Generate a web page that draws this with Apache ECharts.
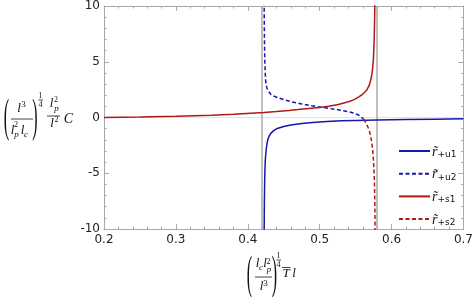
<!DOCTYPE html>
<html>
<head>
<meta charset="utf-8">
<script src="https://cdn.jsdelivr.net/npm/echarts@6/dist/echarts.min.js"></script>
<style>
html,body{margin:0;padding:0;background:#fff;}
#c{width:476px;height:297px;}
</style>
</head>
<body>
<div id="c"></div>
<script>
// ---- data ----
const xTicks = [0.2, 0.3, 0.4, 0.5, 0.6, 0.7];
const yTicks = [-10, -5, 0, 5, 10];
const asymptotes = [0.4226, 0.5774];
const seriesNames = ['u1', 'u2', 's1', 's2'];

const rU1 = [[0.4227,-11],[0.4229,-9],[0.4231,-7.5],[0.4234,-6],[0.4238,-4.8],[0.4243,-3.9],[0.425,-3.3],[0.4258,-2.8],[0.4266,-2.4],[0.4278,-2.0],[0.4295,-1.7],[0.432,-1.42],[0.436,-1.18],[0.441,-0.98],[0.45,-0.8],[0.46,-0.67],[0.475,-0.53],[0.49,-0.44],[0.51,-0.36],[0.53,-0.3],[0.55,-0.26],[0.58,-0.22],[0.62,-0.18],[0.66,-0.15],[0.7,-0.12]];
const rU2 = [[0.4227,11],[0.4229,9],[0.4231,7.5],[0.4234,6],[0.4238,4.8],[0.4243,4.0],[0.4249,3.3],[0.4257,2.9],[0.4266,2.65],[0.428,2.42],[0.4296,2.25],[0.432,2.08],[0.435,1.95],[0.441,1.8],[0.45,1.6],[0.46,1.42],[0.475,1.22],[0.487,1.06],[0.5,0.95],[0.5126,0.82],[0.527,0.68],[0.54,0.52],[0.548,0.38],[0.554,0.22],[0.558,0.04],[0.5615,-0.18]];
const rS1 = [[0.2,0.0],[0.25,0.05],[0.3,0.12],[0.35,0.21],[0.38,0.29],[0.4226,0.45],[0.44,0.53],[0.457,0.63],[0.47,0.71],[0.485,0.81],[0.5,0.9],[0.5126,1.0],[0.526,1.17],[0.54,1.42],[0.548,1.6],[0.554,1.82],[0.56,2.1],[0.5656,2.47],[0.569,2.9],[0.571,3.36],[0.5728,3.95],[0.5739,4.56],[0.5748,5.3],[0.5753,6.05],[0.5758,7.0],[0.5762,8.1],[0.5766,9.5],[0.577,11.5]];
const rS2 = [[0.5612,-0.16],[0.563,-0.35],[0.565,-0.58],[0.5665,-0.78],[0.568,-0.99],[0.5695,-1.3],[0.571,-1.7],[0.5725,-2.3],[0.5738,-3.0],[0.5748,-3.8],[0.5756,-4.8],[0.5762,-5.9],[0.5766,-7.2],[0.5769,-8.8],[0.5772,-11]];

// ---- styles ----
const BLUE = '#1717ad';
const RED = '#b01818';
const FRAME = '#a8a8a8';
const SERIF = '"Liberation Serif", "DejaVu Serif", serif';
const SANS = '"DejaVu Sans", sans-serif';

function T(x, y, s, size, italic, extra) {
  const el = {
    type: 'text', x: x, y: y, z: 100,
    style: {
      text: s, fontSize: size, fontFamily: SERIF,
      fontStyle: italic ? 'italic' : 'normal',
      fill: '#111', align: 'center', verticalAlign: 'middle'
    }
  };
  if (extra) Object.assign(el, extra);
  return el;
}
function L(x1, y1, x2, y2) {
  return { type: 'line', z: 100, shape: { x1: x1, y1: y1, x2: x2, y2: y2 }, style: { stroke: '#111', lineWidth: 0.8 } };
}
const paren = { scaleY: 2.9 };

const mathY = [
  T(6.5, 119, '(', 16, false, paren),
  T(19, 108.5, 'l', 13, true), T(23.5, 105, '3', 9, false),
  L(11, 119, 33, 119),
  T(12.5, 130.5, 'l', 13, true), T(16, 124.5, '2', 8, false), T(16.5, 135, 'p', 9, true),
  T(22.5, 130.5, 'l', 13, true), T(26, 134.5, 'c', 9, true),
  T(35, 119, ')', 16, false, paren),
  T(40.5, 95.5, '1', 8, false), L(38.5, 100, 43, 100), T(40.5, 104.5, '4', 8, false),
  T(51.5, 104, 'l', 13, true), T(56, 99.5, '2', 8, false), T(56.5, 108.5, 'p', 9, true),
  L(47, 116, 60, 116),
  T(52, 123.5, 'l', 13, true), T(56.5, 120, '2', 8, false),
  T(68.5, 119, 'C', 14, true)
];
const mathX = [
  T(249.5, 275.5, '(', 16, false, paren),
  T(257.5, 264, 'l', 13, true), T(261, 267.5, 'c', 9, true),
  T(265, 264, 'l', 13, true), T(268.5, 261.5, '2', 8, false), T(269, 270, 'p', 9, true),
  L(255, 277, 272, 277),
  T(261.5, 287, 'l', 13, true), T(265.5, 283.5, '3', 9, false),
  T(274.5, 275.5, ')', 16, false, paren),
  T(278.5, 255.5, '1', 8, false), L(276.5, 260, 281, 260), T(278.5, 264.5, '4', 8, false),
  T(286, 274, 'T', 13, true), L(282, 267.5, 290.5, 267.5),
  T(294, 274, 'l', 13, true)
];

const tickLabel = { fontFamily: SANS, fontSize: 12, color: '#222' };
function xAxisDef(pos, showLabel) {
  return {
    type: 'value', position: pos, min: xTicks[0], max: xTicks[xTicks.length - 1], interval: 0.1,
    axisLine: { show: true, onZero: false, lineStyle: { color: FRAME, width: 1 } },
    axisTick: { show: true, inside: true, length: 5, lineStyle: { color: FRAME } },
    minorTick: { show: true, splitNumber: 5, length: 2.5, lineStyle: { color: FRAME } },
    splitLine: { show: false },
    axisLabel: Object.assign({ show: showLabel, margin: 5, formatter: v => v.toFixed(1) }, tickLabel)
  };
}
function yAxisDef(pos, showLabel) {
  return {
    type: 'value', position: pos, min: yTicks[0], max: yTicks[yTicks.length - 1], interval: 5,
    axisLine: { show: true, onZero: false, lineStyle: { color: FRAME, width: 1 } },
    axisTick: { show: true, inside: true, length: 5, lineStyle: { color: FRAME } },
    minorTick: { show: true, splitNumber: 5, length: 2.5, lineStyle: { color: FRAME } },
    splitLine: { show: false },
    axisLabel: Object.assign({ show: showLabel, margin: 4, formatter: v => String(v) }, tickLabel)
  };
}

function lineSeries(name, data, color, dashed) {
  return {
    name: name, type: 'line', data: data, symbol: 'none', showSymbol: false,
    smooth: false, clip: true, z: 5,
    lineStyle: { color: color, width: 1.5, type: dashed ? [4, 2.5] : 'solid' },
    itemStyle: { color: color }
  };
}

const chart = echarts.init(document.getElementById('c'), null, { renderer: 'canvas' });
chart.setOption({
  animation: false,
  backgroundColor: '#fff',
  grid: { left: 104, right: 10, top: 6, bottom: 68, containLabel: false },
  xAxis: [xAxisDef('bottom', true), xAxisDef('top', false)],
  yAxis: [yAxisDef('left', true), yAxisDef('right', false)],
  legend: {
    orient: 'vertical', left: 393, top: 140, itemWidth: 31, itemHeight: 14, itemGap: 8.7,
    data: seriesNames,
    itemStyle: { opacity: 0, borderWidth: 0 },
    formatter: n => '{r|r\u0303}{s|+' + n + '}',
    textStyle: {
      color: '#111', padding: [0, 0, 0, -3],
      rich: {
        r: { fontFamily: SERIF, fontStyle: 'italic', fontSize: 14, lineHeight: 16, verticalAlign: 'bottom', color: '#111' },
        s: { fontFamily: SANS, fontSize: 9, lineHeight: 10, verticalAlign: 'bottom', color: '#111' }
      }
    }
  },
  graphic: mathY.concat(mathX),
  series: [
    {
      type: 'line', data: [], silent: true, z: 1,
      markLine: {
        silent: true, symbol: ['none', 'none'], label: { show: false }, animation: false,
        data: [
          { yAxis: 0, lineStyle: { color: '#e2e2e2', width: 1, type: 'solid' } },
          { xAxis: asymptotes[0], lineStyle: { color: '#aaaaaa', width: 1.5, type: 'solid' } },
          { xAxis: asymptotes[1], lineStyle: { color: '#aaaaaa', width: 1.5, type: 'solid' } }
        ]
      }
    },
    lineSeries('u1', rU1, BLUE, false),
    lineSeries('u2', rU2, BLUE, true),
    lineSeries('s1', rS1, RED, false),
    lineSeries('s2', rS2, RED, true)
  ]
});
</script>
</body>
</html>
